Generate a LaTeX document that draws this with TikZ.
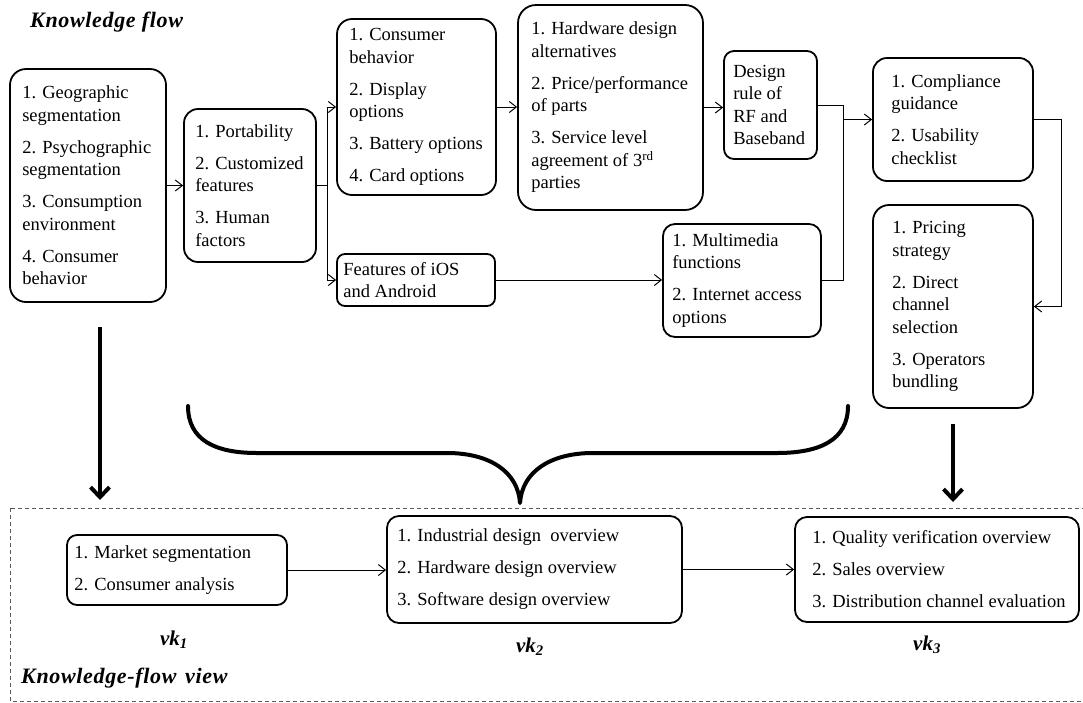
\documentclass[tikz,border=0pt]{standalone}
\usepackage{fontspec}
\setmainfont{Liberation Serif}
\newfontfamily\titlefont[LetterSpace=3]{Liberation Serif}
\usetikzlibrary{arrows.meta,calc}
\begin{document}
\begin{tikzpicture}[x=1pt,y=-1pt,
  box/.style={draw=black, line width=1.8pt, rounded corners=14pt, inner sep=0pt},
  txt/.style={anchor=west, align=left, inner sep=0pt, font=\fontsize{18.5}{22.5}\selectfont},
  link/.style={line width=1pt, -{Straight Barb[length=7pt,width=11pt]}},
  wire/.style={line width=1pt},
  bigarrow/.style={line width=4pt, -{Straight Barb[length=10pt,width=19pt]}},
  brace/.style={line width=4pt, line cap=round, line join=round},
  viewframe/.style={draw=black!65, line width=1pt, dash pattern=on 4pt off 3pt},
  ttl/.style={anchor=west, inner sep=0pt, font=\titlefont\fontsize{22}{26}\selectfont\bfseries\itshape},
  vk/.style={inner sep=0pt, font=\fontsize{21}{25}\selectfont\bfseries\itshape},
]
\useasboundingbox (0,0) rectangle (1083,702);

% ---------- knowledge flow ----------
\node[ttl] (kf) at (30,22) {Knowledge flow};

\node[box, minimum width=156, minimum height=233, rounded corners=16pt] (A) at (88,185.5) {};
\node[txt] (At) at ([xshift=13pt]A.west) {1. Geographic\\segmentation\\[9.5pt]2. Psychographic\\segmentation\\[9.5pt]3. Consumption\\environment\\[9.5pt]4. Consumer\\behavior};

\node[box, minimum width=132, minimum height=153] (B) at (250,185.5) {};
\node[txt] (Bt) at ([xshift=12pt]B.west) {1. Portability\\[9.5pt]2. Customized\\features\\[9.5pt]3. Human\\factors};

\node[box, minimum width=159, minimum height=176, rounded corners=15pt] (C) at (416.5,107) {};
\node[txt] (Ct) at ([xshift=13pt]C.west) {1. Consumer\\behavior\\[9.5pt]2. Display\\options\\[9.5pt]3. Battery options\\[9.5pt]4. Card options};

\node[box, minimum width=158, minimum height=52, rounded corners=8pt] (D) at (416,280) {};
\node[txt] (Dt) at ([xshift=7pt]D.west) {Features of iOS\\and Android};

\node[box, minimum width=185, minimum height=205, rounded corners=18pt] (E) at (610.5,107.5) {};
\node[txt] (Et) at ([xshift=14pt]E.west) {1. Hardware design\\alternatives\\[9.5pt]2. Price/performance\\of parts\\[9.5pt]3. Service level\\agreement of 3\textsuperscript{rd}\\parties};

\node[box, minimum width=93, minimum height=108, rounded corners=10pt] (F) at (770.5,105) {};
\node[txt] (Ft) at ([xshift=10pt]F.west) {Design\\rule of\\RF and\\Baseband};

\node[box, minimum width=158, minimum height=113, rounded corners=12pt] (G) at (742,280.5) {};
\node[txt] (Gt) at ([xshift=10pt]G.west) {1. Multimedia\\functions\\[9.5pt]2. Internet access\\options};

\node[box, minimum width=160, minimum height=123] (H) at (953,119.5) {};
\node[txt] (Ht) at ([xshift=19pt]H.west) {1. Compliance\\guidance\\[9.5pt]2. Usability\\checklist};

\node[box, minimum width=160, minimum height=203, rounded corners=16pt] (I) at (953,306.5) {};
\node[txt] (It) at ([xshift=20pt]I.west) {1. Pricing\\strategy\\[9.5pt]2. Direct\\channel\\selection\\[9.5pt]3. Operators\\bundling};

% flow connectors
\draw[link] (A.east) -- (B.west);
\coordinate (split) at (327,185.5);
\draw[wire] (B.east) -- (split);
\draw[link] (split) |- (C.west);
\draw[link] (split) |- (D.west);
\draw[link] (C.east) -- (C.east -| E.west);
\draw[link] (E.east) -- (E.east -| F.west);
\draw[link] (D.east) -- (D.east -| G.west);
\coordinate (merge) at (843,0);
\draw[wire] (F.east) -| (merge |- G.east) -- (G.east);
\draw[link] (merge |- H.west) -- (H.west);
\coordinate (loop) at (1061,0);
\draw[link] (H.east) -| (loop |- I.east) -- (I.east);

% ---------- mapping onto the view ----------
\coordinate (a1s) at (100,327);
\coordinate (a1e) at (100,500);
\draw[bigarrow] (a1s) -- (a1e);
\coordinate (a3s) at (953,424);
\coordinate (a3e) at (953,502);
\draw[bigarrow] (a3s) -- (a3e);
\draw[brace] (188,406) .. controls (188,440) and (215,453) .. (257,453) -- (447,453)
  .. controls (490,453) and (518,472) .. (520,503)
  .. controls (522,472) and (550,453) .. (593,453) -- (777,453)
  .. controls (820,453) and (848,440) .. (848,406);

% ---------- knowledge-flow view ----------
\draw[viewframe] (10,508) rectangle (1090,701);

\node[box, minimum width=220, minimum height=70, rounded corners=10pt] (V1) at (177,570) {};
\node[txt] (V1t) at ([xshift=8pt]V1.west) {1. Market segmentation\\[9.5pt]2. Consumer analysis};

\node[box, minimum width=295, minimum height=107, rounded corners=12pt] (V2) at (534.5,569.5) {};
\node[txt] (V2t) at ([xshift=11pt]V2.west) {1. Industrial design\ \ overview\\[9.5pt]2. Hardware design overview\\[9.5pt]3. Software design overview};

\node[box, minimum width=284, minimum height=105, rounded corners=12pt] (V3) at (937,569.5) {};
\node[txt] (V3t) at ([xshift=18pt]V3.west) {1. Quality verification overview\\[9.5pt]2. Sales overview\\[9.5pt]3. Distribution channel evaluation};

\draw[link] (V1.east) -- (V1.east -| V2.west);
\draw[link] (V2.east) -- (V2.east -| V3.west);

\node[vk] (vk1) at (174,640) {vk\textsubscript{1}};
\node[vk] (vk2) at (530,647) {vk\textsubscript{2}};
\node[vk] (vk3) at (927,645) {vk\textsubscript{3}};

\node[ttl] (kfv) at (21,678) {Knowledge-flow\hspace{0.4em}view};
\end{tikzpicture}
\end{document}
